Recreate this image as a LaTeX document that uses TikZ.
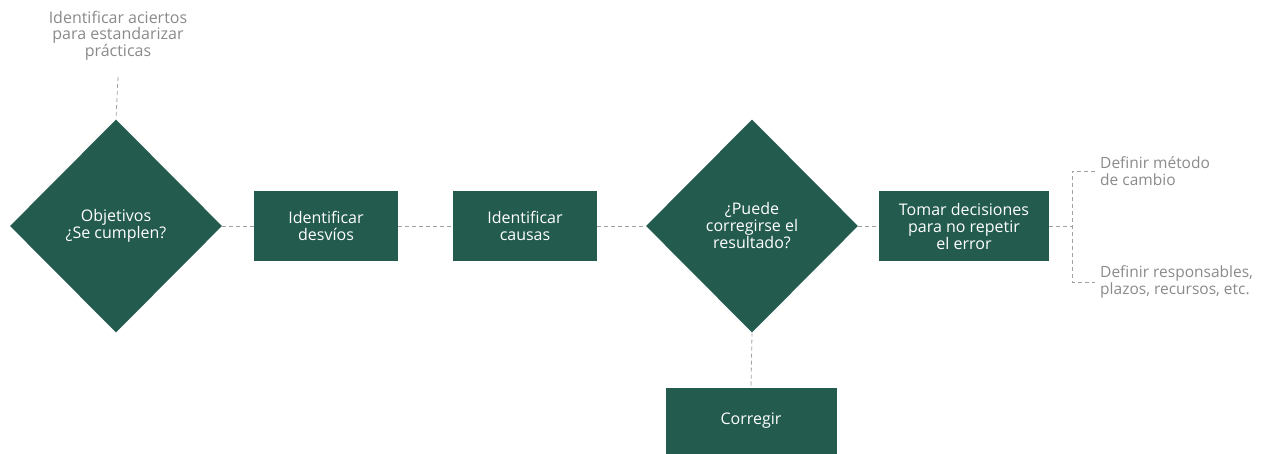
\documentclass[tikz,border=0pt]{standalone}
\usepackage{fontspec}
\setmainfont{Open Sans}
\usepackage{tikz}
\usetikzlibrary{shapes.geometric,positioning}
\definecolor{pine}{HTML}{235B4E}
\definecolor{note}{HTML}{8A8A8A}
\tikzstyle{decision} = [diamond, fill=pine, text=white, inner sep=0pt, align=center, minimum width=212pt, minimum height=213pt, font=\fontsize{16}{17}\selectfont]
\tikzstyle{task} = [rectangle, fill=pine, text=white, inner sep=0pt, align=center, minimum width=144pt, minimum height=70pt, font=\fontsize{16}{17}\selectfont]
\tikzstyle{remark} = [text=note, inner sep=0pt, font=\fontsize{15.5}{16.5}\selectfont]
\tikzstyle{link} = [draw=note!80, dashed, dash pattern=on 4pt off 3pt, line width=0.8pt]

\begin{document}
\begin{tikzpicture}[x=1pt, y=-1pt]
  \useasboundingbox (0,0) rectangle (1268,453);
  % main row
  \node [decision] (goals) at (116,226) {Objetivos\\¿Se cumplen?};
  \node [task] (dev) at (326,226) {Identificar\\desvíos};
  \node [task] (cause) at (525,226) {Identificar\\causas};
  \node [decision] (fix) at (752,226) {¿Puede\\corregirse el\\resultado?};
  \node [task, minimum width=170pt] (decide) at (964,226) {Tomar decisiones\\para no repetir\\el error};
  \node [task, minimum width=171pt, minimum height=66pt] (correct) at (751,421) {Corregir};
  % side notes
  \node [remark, align=center, font=\fontsize{16}{15.5}\selectfont] (hits) at (118,36) {Identificar aciertos\\para estandarizar\\prácticas};
  \node [remark, align=left, anchor=west] (method) at (1100,171) {Definir método\\de cambio};
  \node [remark, align=left, anchor=west] (owners) at (1100,282) {Definir responsables,\\plazos, recursos, etc.};
  \coordinate (top) at (118,77);
  \coordinate (fork) at (1072,226);
  % connectors
  \path [link] (top) -- (goals.north);
  \path [link] (goals.east) -- (dev.west);
  \path [link] (dev.east) -- (cause.west);
  \path [link] (cause.east) -- (fix.west);
  \path [link] (fix.east) -- (decide.west);
  \path [link] (fix.south) -- (correct.north);
  \path [link] (decide.east) -- (fork);
  \path [link] ([xshift=-5pt]method.west) -| (fork) |- ([xshift=-5pt]owners.west);
\end{tikzpicture}
\end{document}
